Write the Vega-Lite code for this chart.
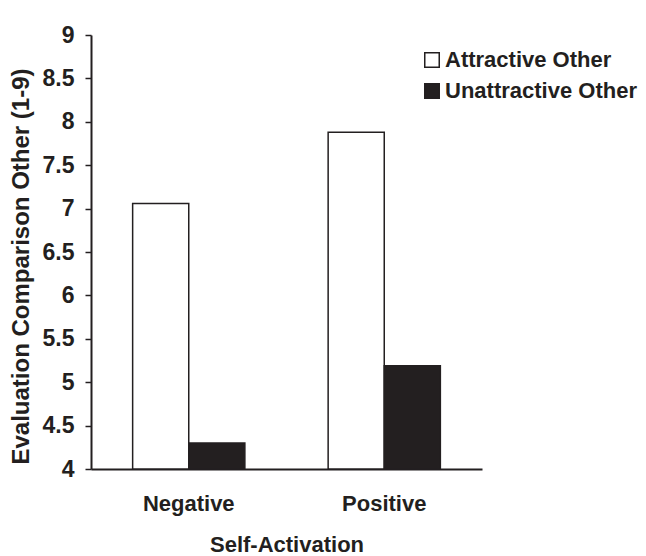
{
  "$schema": "https://vega.github.io/schema/vega-lite/v6.json",
  "autosize": {"type": "none"},
  "width": 391,
  "height": 434,
  "padding": {"left": 91, "top": 35, "right": 164, "bottom": 87},
  "background": "white",
  "data": {"values": [
    {"activation": "Negative", "condition": "Attractive Other", "value": 7.06},
    {"activation": "Negative", "condition": "Unattractive Other", "value": 4.30},
    {"activation": "Positive", "condition": "Attractive Other", "value": 7.88},
    {"activation": "Positive", "condition": "Unattractive Other", "value": 5.19}
  ]},
  "mark": {"type": "bar", "stroke": "#231f20", "strokeWidth": 1.5},
  "encoding": {
    "x": {
      "field": "activation", "type": "nominal",
      "scale": {"paddingInner": 0.426, "paddingOuter": 0.213},
      "axis": {
        "title": "Self-Activation", "labelAngle": 0, "ticks": false,
        "domainColor": "#231f20", "domainWidth": 2,
        "labelFont": "Liberation Sans", "labelFontWeight": "bold", "labelFontSize": 22, "labelColor": "#231f20",
        "labelPadding": 24,
        "titleFont": "Liberation Sans", "titleFontWeight": "bold", "titleFontSize": 22, "titleColor": "#231f20",
        "titlePadding": 20
      }
    },
    "xOffset": {"field": "condition", "type": "nominal", "scale": {"paddingInner": 0, "paddingOuter": 0}},
    "y": {
      "field": "value", "type": "quantitative",
      "scale": {"domain": [4, 9], "zero": false, "nice": false},
      "axis": {
        "title": "Evaluation Comparison Other (1-9)",
        "values": [4, 4.5, 5, 5.5, 6, 6.5, 7, 7.5, 8, 8.5, 9],
        "format": ".1~f", "grid": false,
        "domainColor": "#231f20", "domainWidth": 2,
        "tickColor": "#231f20", "tickWidth": 1.5, "tickSize": 6,
        "labelFont": "Liberation Sans", "labelFontWeight": "bold", "labelFontSize": 23, "labelColor": "#231f20",
        "labelPadding": 11,
        "titleFont": "Liberation Sans", "titleFontWeight": "bold", "titleFontSize": 24, "titleColor": "#231f20",
        "titlePadding": 9, "titleY": 231
      }
    },
    "y2": {"datum": 4},
    "fill": {
      "field": "condition", "type": "nominal",
      "scale": {"domain": ["Attractive Other", "Unattractive Other"], "range": ["#ffffff", "#231f20"]},
      "legend": {
        "title": null, "orient": "none", "legendX": 330, "legendY": 14,
        "symbolType": "square", "symbolSize": 210, "symbolStrokeColor": "#231f20", "symbolStrokeWidth": 1.5,
        "labelFont": "Liberation Sans", "labelFontWeight": "bold", "labelFontSize": 22, "labelColor": "#231f20",
        "labelOffset": 2, "rowPadding": 9, "labelLimit": 300
      }
    }
  },
  "config": {"view": {"stroke": null}}
}
